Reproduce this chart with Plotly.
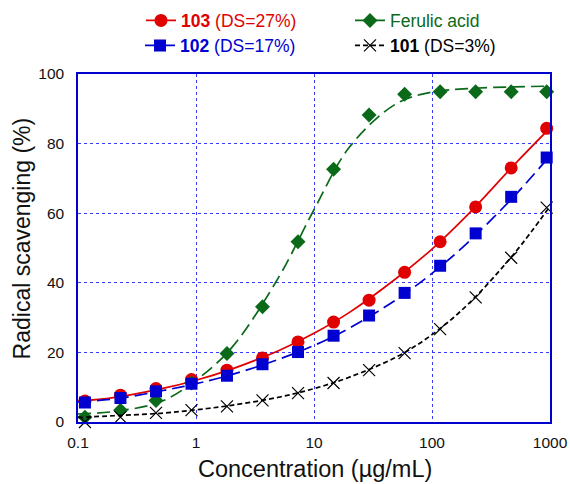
import plotly.graph_objects as go

# Sample concentrations (µg/mL), two-fold serial dilution
conc = [0.1145, 0.229, 0.458, 0.916, 1.83, 3.66, 7.32, 14.65, 29.3, 58.6, 117.2, 234.4, 468.8, 937.5]

# Measured radical scavenging (%)
scav_103 = [6.0, 7.7, 9.6, 12.2, 14.9, 18.4, 23.0, 28.7, 35.0, 43.0, 51.8, 61.8, 73.0, 84.4]
scav_102 = [5.6, 6.9, 8.8, 11.0, 13.3, 16.6, 20.1, 24.8, 30.6, 37.1, 44.9, 54.2, 64.7, 76.0]
scav_fa = [1.4, 3.4, 6.2, 11.2, 19.7, 33.1, 51.8, 72.6, 88.2, 94.2, 94.9, 94.9, 94.9, 94.9]
scav_101 = [0.0, 1.4, 2.6, 3.4, 4.5, 6.2, 8.3, 11.2, 14.9, 19.8, 26.7, 35.8, 47.2, 61.6]

# Fitted dose-response curves, sampled across the axis range
fit_conc = [0.1, 0.2, 0.5, 1, 2, 5, 10, 20, 50, 100, 200, 500, 1000]
fit_103 = [6.0, 7.0, 9.5, 12.0, 15.2, 20.5, 25.5, 31.5, 41.3, 49.7, 59.5, 74.0, 84.5]
fit_102 = [5.8, 6.6, 8.9, 11.0, 13.6, 18.0, 22.0, 27.0, 35.2, 42.7, 51.5, 65.0, 76.5]
fit_fa = [2.3, 3.0, 5.8, 12.0, 21.3, 41.5, 61.0, 79.0, 91.5, 94.8, 95.8, 96.3, 96.5]
fit_101 = [1.3, 1.8, 2.5, 3.5, 4.8, 7.1, 9.6, 12.9, 18.7, 25.1, 33.7, 48.5, 62.0]

x_ticks = [0.1, 1, 10, 100, 1000]
x_ticktext = ["0.1", "1", "10", "100", "1000"]
y_ticks = [0, 20, 40, 60, 80, 100]

RED = "#e00000"
BLUE = "#0000d0"
GREEN = "#0b6a1a"
BLACK = "#000000"

series = [
    # name, points, fit, color, dash, marker, legend
    ("<b>103</b> (DS=27%)", scav_103, fit_103, RED, "solid",
     dict(symbol="circle", size=13, color=RED), "legend"),
    ("Ferulic acid", scav_fa, fit_fa, GREEN, "13px,6px",
     dict(symbol="diamond", size=11.5, color=GREEN), "legend2"),
    ("<b>102</b> (DS=17%)", scav_102, fit_102, BLUE, "13px,6px",
     dict(symbol="square", size=12, color=BLUE), "legend3"),
    ("<b>101</b> (DS=3%)", scav_101, fit_101, BLACK, "5px,3px",
     dict(symbol="x-thin", size=12, color=BLACK, line=dict(width=1.2, color=BLACK)), "legend4"),
]

fig = go.Figure()

for name, pts, fit, color, dash, marker, leg in series:
    fig.add_trace(go.Scatter(
        x=fit_conc, y=fit, mode="lines", line=dict(color=color, width=1.7, dash=dash, shape="spline", smoothing=1.0),
        showlegend=False, hoverinfo="skip", cliponaxis=False,
    ))
    fig.add_trace(go.Scatter(
        x=conc, y=pts, mode="markers", marker=marker,
        showlegend=False, cliponaxis=False, name=name,
    ))
    # legend entry (line + marker sample)
    fig.add_trace(go.Scatter(
        x=[None], y=[None], mode="lines+markers", name=name,
        line=dict(color=color, width=1.7, dash=dash), marker=marker,
        showlegend=True, legend=leg,
    ))

PLOT_L, PLOT_R, PLOT_T, PLOT_B = 78, 550, 73.5, 421.7
W, H = 570, 484


def px_x(px):
    return (px - PLOT_L) / (PLOT_R - PLOT_L)


def px_y(py):
    return (PLOT_B - py) / (PLOT_B - PLOT_T)


legend_common = dict(bgcolor="rgba(0,0,0,0)", borderwidth=0, xanchor="left", yanchor="middle",
                     itemclick=False, itemdoubleclick=False)
font_family = "Liberation Sans, Arial, sans-serif"
LEG_SIZE = 17.5

fig.update_layout(
    width=W, height=H,
    margin=dict(l=PLOT_L, r=W - PLOT_R, t=PLOT_T, b=H - PLOT_B, autoexpand=False),
    paper_bgcolor="white", plot_bgcolor="white",
    font=dict(family=font_family, color="#111111"),
    legend=dict(x=px_x(141), y=px_y(20), font=dict(size=LEG_SIZE, color=RED, family=font_family), **legend_common),
    legend2=dict(x=px_x(350), y=px_y(20), font=dict(size=LEG_SIZE, color=GREEN, family=font_family), **legend_common),
    legend3=dict(x=px_x(140), y=px_y(45), font=dict(size=LEG_SIZE, color=BLUE, family=font_family), **legend_common),
    legend4=dict(x=px_x(350), y=px_y(45), font=dict(size=LEG_SIZE, color=BLACK, family=font_family), **legend_common),
    xaxis=dict(
        type="log", range=[-1, 3], tickvals=x_ticks, ticktext=x_ticktext, automargin=False,
        showgrid=True, gridcolor="#3a3aff", griddash="dot", gridwidth=1,
        showline=True, mirror=True, linecolor="#0000cc", linewidth=1.5,
        ticks="", ticklabelstandoff=6, tickfont=dict(size=15.5, color="#111111"),
        zeroline=False,
    ),
    yaxis=dict(
        range=[0, 100], tickvals=y_ticks, automargin=False,
        showgrid=True, gridcolor="#3a3aff", griddash="dot", gridwidth=1,
        showline=True, mirror=True, linecolor="#0000cc", linewidth=1.5,
        ticks="", ticklabelstandoff=9, tickfont=dict(size=15.5, color="#111111"),
        zeroline=False,
    ),
    annotations=[
        dict(text="Concentration (µg/mL)", xref="paper", yref="paper", x=px_x(315), y=px_y(469),
             xanchor="center", yanchor="middle", showarrow=False, font=dict(size=23.5, color="#111111")),
        dict(text="Radical scavenging (%)", xref="paper", yref="paper", x=px_x(22), y=px_y(238),
             xanchor="center", yanchor="middle", textangle=-90, showarrow=False,
             font=dict(size=23, color="#111111")),
    ],
)

fig.write_html("out.html")
